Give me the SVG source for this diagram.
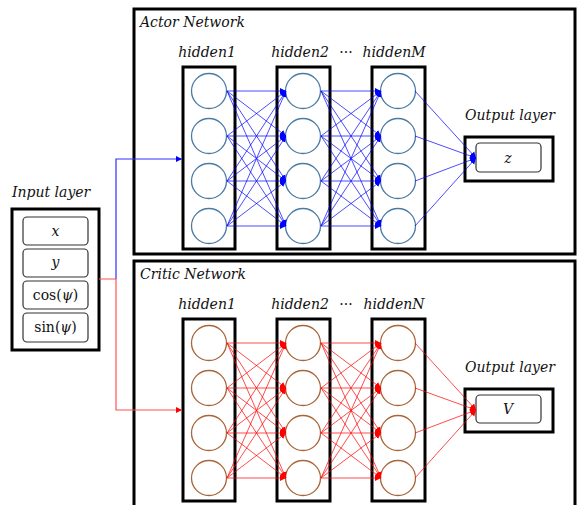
<svg xmlns="http://www.w3.org/2000/svg" width="582" height="505" viewBox="0 0 582 505">
<style>
text{font-family:"DejaVu Serif","Liberation Serif",serif;font-size:14px;fill:#111}
.it{font-style:italic}
.net{fill:#fff;stroke:#000;stroke-width:3}
.hbox{fill:none;stroke:#000;stroke-width:3}
.cb{fill:#fff;stroke:#4a7ba3;stroke-width:1.3}
.cr{fill:#fff;stroke:#a8663a;stroke-width:1.3}
.inner{fill:#fff;stroke:#333;stroke-width:1.2}
.b{stroke:#0000ff;stroke-width:1;stroke-opacity:0.7;fill:none;marker-end:url(#ab)}
.r{stroke:#ff0000;stroke-width:1;stroke-opacity:0.7;fill:none;marker-end:url(#ar)}
.bi{stroke:#3030ff;stroke-width:1.2;fill:none}
.ri{stroke:#ff5050;stroke-width:1.2;fill:none}
</style>
<defs>
<marker id="ab" markerUnits="userSpaceOnUse" markerWidth="7" markerHeight="7" refX="6" refY="3.5" orient="auto"><path d="M0,0.5 L6,3.5 L0,6.5 z" fill="#0000ff"/></marker>
<marker id="ar" markerUnits="userSpaceOnUse" markerWidth="7" markerHeight="7" refX="6" refY="3.5" orient="auto"><path d="M0,0.5 L6,3.5 L0,6.5 z" fill="#ff0000"/></marker>
</defs>
<rect width="582" height="505" fill="#fff"/>

<g id="actor-network">
<rect class="net" x="134" y="9" width="441" height="245"/>
<text class="it" x="140" y="27">Actor Network</text>
<text class="it" x="207" y="57" text-anchor="middle">hidden1</text>
<text class="it" x="300" y="57" text-anchor="middle">hidden2</text>
<text x="346" y="57" text-anchor="middle">···</text>
<text class="it" x="394" y="57" text-anchor="middle">hiddenM</text>
<text class="it" x="510" y="120" text-anchor="middle">Output layer</text>
</g>

<g id="critic-network">
<rect class="net" x="134" y="261" width="441" height="250"/>
<text class="it" x="140" y="279">Critic Network</text>
<text class="it" x="207" y="309" text-anchor="middle">hidden1</text>
<text class="it" x="300" y="309" text-anchor="middle">hidden2</text>
<text x="346" y="309" text-anchor="middle">···</text>
<text class="it" x="394" y="309" text-anchor="middle">hiddenN</text>
<text class="it" x="510" y="372" text-anchor="middle">Output layer</text>
</g>

<g id="input-layer">
<text class="it" x="12" y="197">Input layer</text>
<rect x="12" y="209" width="87" height="141" fill="#fff" stroke="#000" stroke-width="3"/>
<rect class="inner" x="23" y="217" width="65" height="28" rx="4"/>
<rect class="inner" x="23" y="249" width="65" height="28" rx="4"/>
<rect class="inner" x="23" y="281" width="65" height="28" rx="4"/>
<rect class="inner" x="23" y="313" width="65" height="29" rx="4"/>
<text class="it" x="55.5" y="236" text-anchor="middle">x</text>
<text class="it" x="55.5" y="267" text-anchor="middle">y</text>
<text x="55.5" y="300" text-anchor="middle">cos(<tspan class="it">ψ</tspan>)</text>
<text x="55.5" y="332" text-anchor="middle">sin(<tspan class="it">ψ</tspan>)</text>
</g>

<g id="actor-hidden1">
<rect class="hbox" x="183" y="67" width="52" height="182"/>
<circle class="cb" cx="209" cy="91" r="17.5"/><circle class="cb" cx="209" cy="136" r="17.5"/><circle class="cb" cx="209" cy="181" r="17.5"/><circle class="cb" cx="209" cy="226" r="17.5"/>
</g>
<g id="actor-hidden2">
<rect class="hbox" x="277" y="67" width="53" height="182"/>
<circle class="cb" cx="303" cy="91" r="17.5"/><circle class="cb" cx="303" cy="136" r="17.5"/><circle class="cb" cx="303" cy="181" r="17.5"/><circle class="cb" cx="303" cy="226" r="17.5"/>
</g>
<g id="actor-hiddenM">
<rect class="hbox" x="372" y="67" width="53" height="182"/>
<circle class="cb" cx="398" cy="91" r="17.5"/><circle class="cb" cx="398" cy="136" r="17.5"/><circle class="cb" cx="398" cy="181" r="17.5"/><circle class="cb" cx="398" cy="226" r="17.5"/>
</g>
<g id="actor-output">
<rect class="hbox" x="465" y="137" width="88" height="44" fill="#fff"/>
<rect class="inner" x="476" y="143" width="65" height="29" rx="4"/>
<text class="it" x="508" y="163" text-anchor="middle">z</text>
</g>

<g id="critic-hidden1">
<rect class="hbox" x="183" y="319" width="52" height="182"/>
<circle class="cr" cx="209" cy="343" r="17.5"/><circle class="cr" cx="209" cy="388" r="17.5"/><circle class="cr" cx="209" cy="433" r="17.5"/><circle class="cr" cx="209" cy="478" r="17.5"/>
</g>
<g id="critic-hidden2">
<rect class="hbox" x="277" y="319" width="53" height="182"/>
<circle class="cr" cx="303" cy="343" r="17.5"/><circle class="cr" cx="303" cy="388" r="17.5"/><circle class="cr" cx="303" cy="433" r="17.5"/><circle class="cr" cx="303" cy="478" r="17.5"/>
</g>
<g id="critic-hiddenN">
<rect class="hbox" x="372" y="319" width="53" height="182"/>
<circle class="cr" cx="398" cy="343" r="17.5"/><circle class="cr" cx="398" cy="388" r="17.5"/><circle class="cr" cx="398" cy="433" r="17.5"/><circle class="cr" cx="398" cy="478" r="17.5"/>
</g>
<g id="critic-output">
<rect class="hbox" x="465" y="389" width="88" height="43" fill="#fff"/>
<rect class="inner" x="476" y="395" width="65" height="28" rx="4"/>
<text class="it" x="508" y="414" text-anchor="middle">V</text>
</g>

<g id="connectors">
<polyline class="bi" points="116,279 116,159 182,159" marker-end="url(#ab)"/>
<polyline class="ri" points="99,279 116,279 116,410 182,410" marker-end="url(#ar)"/>

<line class="b" x1="227" y1="91" x2="286" y2="91"/><line class="b" x1="227" y1="91" x2="286" y2="136"/><line class="b" x1="227" y1="91" x2="286" y2="181"/><line class="b" x1="227" y1="91" x2="286" y2="226"/>
<line class="b" x1="227" y1="136" x2="286" y2="91"/><line class="b" x1="227" y1="136" x2="286" y2="136"/><line class="b" x1="227" y1="136" x2="286" y2="181"/><line class="b" x1="227" y1="136" x2="286" y2="226"/>
<line class="b" x1="227" y1="181" x2="286" y2="91"/><line class="b" x1="227" y1="181" x2="286" y2="136"/><line class="b" x1="227" y1="181" x2="286" y2="181"/><line class="b" x1="227" y1="181" x2="286" y2="226"/>
<line class="b" x1="227" y1="226" x2="286" y2="91"/><line class="b" x1="227" y1="226" x2="286" y2="136"/><line class="b" x1="227" y1="226" x2="286" y2="181"/><line class="b" x1="227" y1="226" x2="286" y2="226"/>

<line class="b" x1="321" y1="91" x2="381" y2="91"/><line class="b" x1="321" y1="91" x2="381" y2="136"/><line class="b" x1="321" y1="91" x2="381" y2="181"/><line class="b" x1="321" y1="91" x2="381" y2="226"/>
<line class="b" x1="321" y1="136" x2="381" y2="91"/><line class="b" x1="321" y1="136" x2="381" y2="136"/><line class="b" x1="321" y1="136" x2="381" y2="181"/><line class="b" x1="321" y1="136" x2="381" y2="226"/>
<line class="b" x1="321" y1="181" x2="381" y2="91"/><line class="b" x1="321" y1="181" x2="381" y2="136"/><line class="b" x1="321" y1="181" x2="381" y2="181"/><line class="b" x1="321" y1="181" x2="381" y2="226"/>
<line class="b" x1="321" y1="226" x2="381" y2="91"/><line class="b" x1="321" y1="226" x2="381" y2="136"/><line class="b" x1="321" y1="226" x2="381" y2="181"/><line class="b" x1="321" y1="226" x2="381" y2="226"/>

<line class="b" x1="415" y1="91" x2="476" y2="158"/><line class="b" x1="415" y1="136" x2="476" y2="158"/><line class="b" x1="415" y1="181" x2="476" y2="158"/><line class="b" x1="415" y1="226" x2="476" y2="158"/>

<line class="r" x1="227" y1="343" x2="286" y2="343"/><line class="r" x1="227" y1="343" x2="286" y2="388"/><line class="r" x1="227" y1="343" x2="286" y2="433"/><line class="r" x1="227" y1="343" x2="286" y2="478"/>
<line class="r" x1="227" y1="388" x2="286" y2="343"/><line class="r" x1="227" y1="388" x2="286" y2="388"/><line class="r" x1="227" y1="388" x2="286" y2="433"/><line class="r" x1="227" y1="388" x2="286" y2="478"/>
<line class="r" x1="227" y1="433" x2="286" y2="343"/><line class="r" x1="227" y1="433" x2="286" y2="388"/><line class="r" x1="227" y1="433" x2="286" y2="433"/><line class="r" x1="227" y1="433" x2="286" y2="478"/>
<line class="r" x1="227" y1="478" x2="286" y2="343"/><line class="r" x1="227" y1="478" x2="286" y2="388"/><line class="r" x1="227" y1="478" x2="286" y2="433"/><line class="r" x1="227" y1="478" x2="286" y2="478"/>

<line class="r" x1="321" y1="343" x2="381" y2="343"/><line class="r" x1="321" y1="343" x2="381" y2="388"/><line class="r" x1="321" y1="343" x2="381" y2="433"/><line class="r" x1="321" y1="343" x2="381" y2="478"/>
<line class="r" x1="321" y1="388" x2="381" y2="343"/><line class="r" x1="321" y1="388" x2="381" y2="388"/><line class="r" x1="321" y1="388" x2="381" y2="433"/><line class="r" x1="321" y1="388" x2="381" y2="478"/>
<line class="r" x1="321" y1="433" x2="381" y2="343"/><line class="r" x1="321" y1="433" x2="381" y2="388"/><line class="r" x1="321" y1="433" x2="381" y2="433"/><line class="r" x1="321" y1="433" x2="381" y2="478"/>
<line class="r" x1="321" y1="478" x2="381" y2="343"/><line class="r" x1="321" y1="478" x2="381" y2="388"/><line class="r" x1="321" y1="478" x2="381" y2="433"/><line class="r" x1="321" y1="478" x2="381" y2="478"/>

<line class="r" x1="415" y1="343" x2="476" y2="410"/><line class="r" x1="415" y1="388" x2="476" y2="410"/><line class="r" x1="415" y1="433" x2="476" y2="410"/><line class="r" x1="415" y1="478" x2="476" y2="410"/>
</g>
</svg>
